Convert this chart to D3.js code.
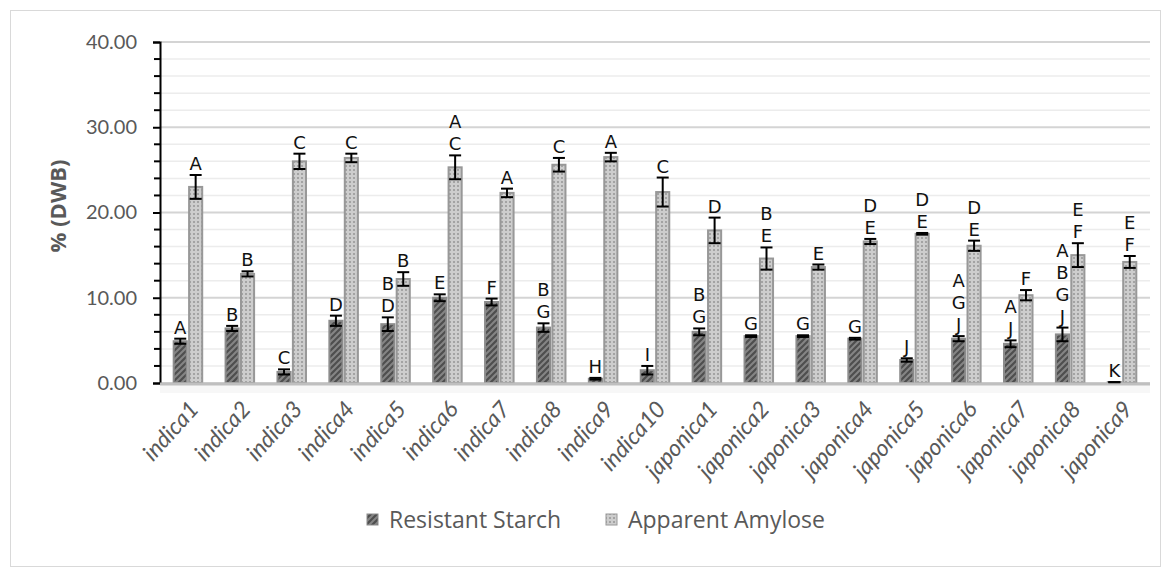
<!DOCTYPE html>
<html>
<head>
<meta charset="utf-8">
<script src="https://cdn.jsdelivr.net/npm/d3@7"></script>
<style>
  body { margin: 0; background: #fff; }
  svg { display: block; }
</style>
</head>
<body>
<div id="chart"></div>
<script>
// values
const cultivars = ["indica1", "indica2", "indica3", "indica4", "indica5", "indica6", "indica7", "indica8", "indica9", "indica10",
  "japonica1", "japonica2", "japonica3", "japonica4", "japonica5", "japonica6", "japonica7", "japonica8", "japonica9"];
const rsMean = [4.9, 6.4, 1.3, 7.3, 6.9, 10.0, 9.5, 6.5, 0.5, 1.5, 6.0, 5.5, 5.5, 5.2, 2.7, 5.2, 4.6, 5.7, 0.1];
const rsErr  = [0.3, 0.3, 0.3, 0.6, 0.8, 0.4, 0.4, 0.5, 0.1, 0.5, 0.4, 0.1, 0.1, 0.1, 0.2, 0.3, 0.4, 0.8, 0.0];
const aaMean = [23.0, 12.8, 26.0, 26.4, 12.2, 25.3, 22.3, 25.6, 26.5, 22.4, 17.9, 14.6, 13.6, 16.6, 17.5, 16.1, 10.3, 15.0, 14.2];
const aaErr  = [1.4, 0.3, 0.9, 0.5, 0.8, 1.4, 0.5, 0.8, 0.5, 1.7, 1.5, 1.3, 0.3, 0.3, 0.1, 0.6, 0.6, 1.4, 0.7];
const rsLetters = ["A", "B", "C", "D", "BD", "E", "F", "BG", "H", "I", "BG", "G", "G", "G", "J", "AGJ", "AJ", "ABGJ", "K"];
const aaLetters = ["A", "B", "C", "C", "B", "AC", "A", "C", "A", "C", "D", "BE", "E", "DE", "DE", "DE", "F", "EF", "EF"];
const seriesNames = ["Resistant Starch", "Apparent Amylose"];
const yTicks = [0, 10, 20, 30, 40];

const W = 1170, H = 572;
const svg = d3.select("#chart").append("svg").attr("width", W).attr("height", H);

// chart frame
svg.append("rect").attr("x", 10.5).attr("y", 10.5).attr("width", 1150).attr("height", 556)
  .attr("fill", "#fff").attr("stroke", "#d9d9d9").attr("stroke-width", 1);

const defs = svg.append("defs");
let hatch = defs.append("pattern").attr("id", "hatch").attr("patternUnits", "userSpaceOnUse")
  .attr("width", 6).attr("height", 6);
hatch.append("rect").attr("width", 6).attr("height", 6).attr("fill", "#4e4e4e");
hatch.append("path").attr("d", "M-1,1 l2,-2 M0,6 l6,-6 M5,7 l2,-2")
  .attr("stroke", "#858585").attr("stroke-width", 2);

let dots = defs.append("pattern").attr("id", "dots").attr("patternUnits", "userSpaceOnUse")
  .attr("width", 4).attr("height", 4);
dots.append("rect").attr("width", 4).attr("height", 4).attr("fill", "#cdcdcd");
dots.append("rect").attr("x", 1).attr("y", 1).attr("width", 2).attr("height", 2).attr("fill", "#a3a3a3");

const fills = ["url(#hatch)", "url(#dots)"];
const strokes = ["#8c8c8c", "#989898"];

let x = d3.scaleBand().domain(cultivars).range([162, 1148]).paddingInner(0.4).paddingOuter(0.2);
let x1 = d3.scaleBand().domain([0, 1]).range([0, x.bandwidth()]).padding(0.02);
let y = d3.scaleLinear().domain([0, 40]).range([383, 42]);

// gridlines
let minor = d3.range(0, 41, 2);
svg.append("g").selectAll("line").data(minor).join("line")
  .attr("x1", 161).attr("x2", 1150)
  .attr("y1", d => y(d)).attr("y2", d => y(d))
  .attr("stroke", d => d % 10 == 0 ? "#d4d4d4" : "#ececec")
  .attr("stroke-width", d => d % 10 == 0 ? 2 : 1.5);

// y axis
let yAxis = svg.append("g").attr("transform", "translate(160,0)")
  .call(d3.axisLeft(y).tickValues(yTicks).tickFormat(d3.format(".2f")).tickSize(7).tickPadding(16));
yAxis.select(".domain").attr("stroke", "#000").attr("stroke-width", 2);
yAxis.selectAll(".tick line").attr("stroke", "#000").attr("stroke-width", 2);
yAxis.selectAll("text").attr("fill", "#595959").style("font-family", "Lato, 'Open Sans', sans-serif").style("font-size", "20px");
svg.append("g").selectAll("line").data(minor.filter(d => d % 10 != 0)).join("line")
  .attr("x1", 154).attr("x2", 160).attr("y1", d => y(d)).attr("y2", d => y(d))
  .attr("stroke", "#000").attr("stroke-width", 2);

svg.append("text").attr("transform", "translate(66,206) rotate(-90)")
  .attr("text-anchor", "middle").attr("fill", "#595959")
  .style("font-family", "'Open Sans', sans-serif").style("font-size", "22px").style("font-weight", "bold")
  .text("% (DWB)");

// bars
let rows = cultivars.map((c, i) => [
  {c: c, s: 0, v: rsMean[i], e: rsErr[i], lab: rsLetters[i]},
  {c: c, s: 1, v: aaMean[i], e: aaErr[i], lab: aaLetters[i]}
]).flat();

svg.append("g").selectAll("rect").data(rows).join("rect")
  .attr("x", d => x(d.c) + x1(d.s) + 1)
  .attr("y", d => y(d.v))
  .attr("width", x1.bandwidth() - 2)
  .attr("height", d => y(0) - y(d.v))
  .attr("fill", d => fills[d.s])
  .attr("stroke", d => strokes[d.s])
  .attr("stroke-width", 2);

// x baseline
svg.append("rect").attr("x", 160).attr("y", 383).attr("width", 990).attr("height", 10).attr("fill", "#f7f7f7");
svg.append("line").attr("x1", 160).attr("x2", 1150).attr("y1", y(0) + 1).attr("y2", y(0) + 1)
  .attr("stroke", "#bfbfbf").attr("stroke-width", 3);

// error bars
let eb = svg.append("g").attr("stroke", "#000").attr("stroke-width", 2);
rows.forEach(function(d){
  let cx = x(d.c) + x1(d.s) + x1.bandwidth() / 2;
  let top = y(d.v + d.e), bot = y(Math.max(0, d.v - d.e));
  eb.append("line").attr("x1", cx).attr("x2", cx).attr("y1", top).attr("y2", bot);
  eb.append("line").attr("x1", cx - 6).attr("x2", cx + 6).attr("y1", top).attr("y2", top);
  eb.append("line").attr("x1", cx - 6).attr("x2", cx + 6).attr("y1", bot).attr("y2", bot);
});

// significance letters stacked above the error bars
let lab = svg.append("g").style("font-family", "'DejaVu Sans', sans-serif").style("font-size", "18px").attr("fill", "#111");
rows.forEach(function(d){
  let cx = x(d.c) + x1(d.s) + x1.bandwidth() / 2;
  let base = y(d.v + d.e) - 5;
  let letters = d.lab.split("").reverse();
  letters.forEach(function(l, k){
    lab.append("text").attr("x", cx).attr("y", base - k * 22).attr("text-anchor", "middle").text(l);
  });
});

// category labels
svg.append("g").selectAll("text").data(cultivars).join("text")
  .attr("transform", d => `translate(${x(d) + x.bandwidth() / 2 + 12},${410}) rotate(-48)`)
  .attr("text-anchor", "end")
  .attr("fill", "#595959")
  .style("font-family", "Lato, 'Open Sans', sans-serif").style("font-style", "italic").style("font-size", "23px")
  .text(d => d);

// legend
let legend = svg.append("g").style("font-family", "'Open Sans', sans-serif").style("font-size", "23px").attr("fill", "#595959");
let lx = [367, 606];
seriesNames.forEach(function(n, i){
  legend.append("rect").attr("x", lx[i]).attr("y", 514).attr("width", 11).attr("height", 11)
    .attr("fill", fills[i]).attr("stroke", strokes[i]).attr("stroke-width", 1);
  legend.append("text").attr("x", lx[i] + 22).attr("y", 528).text(n);
});
</script>
</body>
</html>
